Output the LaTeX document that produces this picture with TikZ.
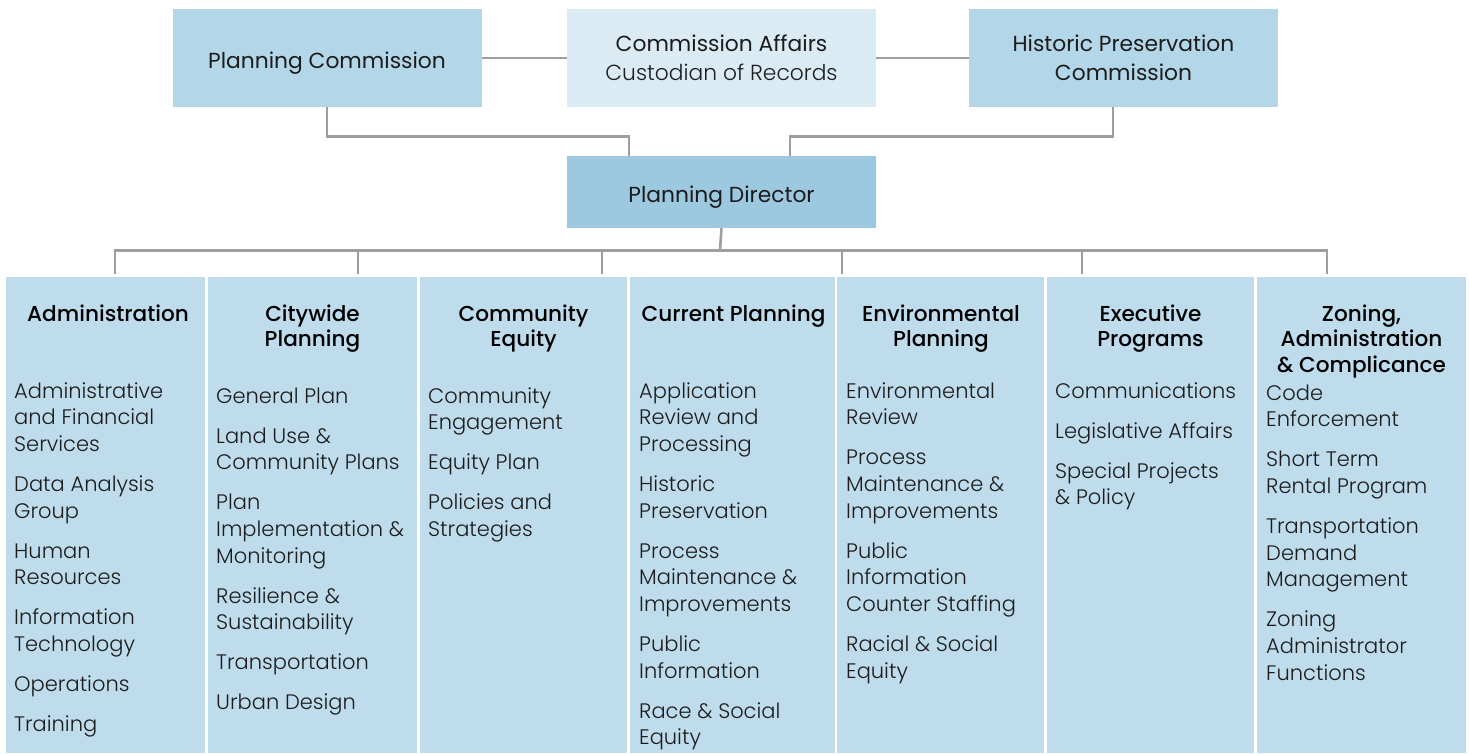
\documentclass[tikz,border=0pt]{standalone}
\usepackage{fontspec}
\usetikzlibrary{calc}
\setmainfont{Poppins}
\IfFontExistsTF{Poppins Light}{\newfontfamily\lightf{Poppins Light}}{\newfontfamily\lightf{Poppins}}
\newfontfamily\regf{Poppins}
\IfFontExistsTF{Poppins Medium}{\newfontfamily\medf{Poppins Medium}}{\newcommand\medf{\regf\bfseries}}
\definecolor{sideblue}{HTML}{B3D7E8}
\definecolor{paleblue}{HTML}{DAEBF4}
\definecolor{dirblue}{HTML}{9CC8E0}
\definecolor{colblue}{HTML}{BEDCEC}
\definecolor{linegray}{HTML}{9E9E9E}
\definecolor{ink}{HTML}{1C1C1C}
\newcommand{\ig}{13.3pt}
\newcommand{\lst}[1]{\parbox[t]{260pt}{\raggedright #1}}
\newcommand{\hdr}[1]{\parbox[t]{200pt}{\centering #1}}
\tikzset{
  topbox/.style={draw=none, inner sep=0pt, minimum width=309pt, minimum height=98pt,
    align=center, text=ink, font={\regf\fontsize{21.8}{29}\selectfont}},
  oneline/.style={text height=20pt, text depth=0pt},
  colbox/.style={draw=none, fill=colblue, inner sep=0pt, minimum height=476pt},
  headtext/.style={anchor=base, inner sep=0pt, text=black, font={\medf\fontsize{21.6}{25.6}\selectfont}},
  listtext/.style={anchor=base west, inner sep=0pt, text=ink, font={\lightf\fontsize{21}{26.7}\selectfont}},
  conn/.style={draw=linegray, line width=2.6pt}
}
\begin{document}
\begin{tikzpicture}[x=1pt,y=-1pt]
\useasboundingbox (0,0) rectangle (1469,753);
% top row
\node[topbox, oneline, fill=sideblue] (pc) at (327,58) {Planning Commission};
\node[topbox, fill=paleblue] (ca) at (721.5,58) {Commission Affairs\\{\lightf Custodian of Records}};
\node[topbox, fill=sideblue] (hpc) at (1123.5,58) {Historic Preservation\\Commission};
\node[topbox, oneline, fill=dirblue, minimum height=72pt] (pd) at (721.5,192) {Planning Director};
% columns
\node[colbox, minimum width=199pt] (c1) at (105.5,515) {};
\node[colbox, minimum width=209pt] (c2) at (312.5,515) {};
\node[colbox, minimum width=207pt] (c3) at (523.5,515) {};
\node[colbox, minimum width=205pt] (c4) at (732.5,515) {};
\node[colbox, minimum width=207pt] (c5) at (940.5,515) {};
\node[colbox, minimum width=207pt] (c6) at (1150.5,515) {};
\node[colbox, minimum width=209pt] (c7) at (1361.5,515) {};
% connectors top
\draw[conn] (pc.east) -- (ca.west);
\draw[conn] (ca.east) -- (hpc.west);
\coordinate (pdinL) at ($(pd.north west)+(62,0)$);
\coordinate (pdinR) at ($(pd.north west)+(223,0)$);
\coordinate (hpcb) at ($(hpc.south)+(-10.5,0)$);
\draw[conn] (pc.south) -- ++(0,29) -| (pdinL);
\draw[conn] (hpcb) -- ++(0,29) -| (pdinR);
% bus
\coordinate (hub) at ($(pd.south)+(-1.5,22)$);
\coordinate (t1) at (115,274);
\coordinate (t2) at (358,274);
\coordinate (t3) at (602,274);
\coordinate (t4) at (842,274);
\coordinate (t5) at (1082,274);
\coordinate (t6) at (1327,274);
\draw[conn] (pd.south) -- (hub);
\draw[conn] (t1) |- (hub) -| (t6);
\draw[conn] (t2) -- (t2 |- hub);
\draw[conn] (t3) -- (t3 |- hub);
\draw[conn] (t4) -- (t4 |- hub);
\draw[conn] (t5) -- (t5 |- hub);
% headers
\node[headtext] (h1) at (108,321) {\hdr{Administration}};
\node[headtext] (h2) at (312.5,321) {\hdr{Citywide\\Planning}};
\node[headtext] (h3) at (523.5,321) {\hdr{Community\\Equity}};
\node[headtext] (h4) at (733.5,321) {\hdr{Current Planning}};
\node[headtext] (h5) at (941,321) {\hdr{Environmental\\Planning}};
\node[headtext] (h6) at (1150.5,321) {\hdr{Executive\\Programs}};
\node[headtext] (h7) at (1361.5,321) {\hdr{Zoning,\\Administration\\\& Complicance}};
% lists
\node[listtext] (l1) at (14,398) {\lst{Administrative\\and Financial\\Services\\[\ig]Data Analysis\\Group\\[\ig]Human\\Resources\\[\ig]Information\\Technology\\[\ig]Operations\\[\ig]Training}};
\node[listtext] (l2) at (216,403) {\lst{General Plan\\[\ig]Land Use \&\\Community Plans\\[\ig]Plan\\Implementation \&\\Monitoring\\[\ig]Resilience \&\\Sustainability\\[\ig]Transportation\\[\ig]Urban Design}};
\node[listtext] (l3) at (428,403) {\lst{Community\\Engagement\\[\ig]Equity Plan\\[\ig]Policies and\\Strategies}};
\node[listtext] (l4) at (639,398) {\lst{Application\\Review and\\Processing\\[\ig]Historic\\Preservation\\[\ig]Process\\Maintenance \&\\Improvements\\[\ig]Public\\Information\\[\ig]Race \& Social\\Equity}};
\node[listtext] (l5) at (846,398) {\lst{Environmental\\Review\\[\ig]Process\\Maintenance \&\\Improvements\\[\ig]Public\\Information\\Counter Staffing\\[\ig]Racial \& Social\\Equity}};
\node[listtext] (l6) at (1055,398) {\lst{Communications\\[\ig]Legislative Affairs\\[\ig]Special Projects\\\& Policy}};
\node[listtext] (l7) at (1266,400) {\lst{Code\\Enforcement\\[\ig]Short Term\\Rental Program\\[\ig]Transportation\\Demand\\Management\\[\ig]Zoning\\Administrator\\Functions}};
\end{tikzpicture}
\end{document}
